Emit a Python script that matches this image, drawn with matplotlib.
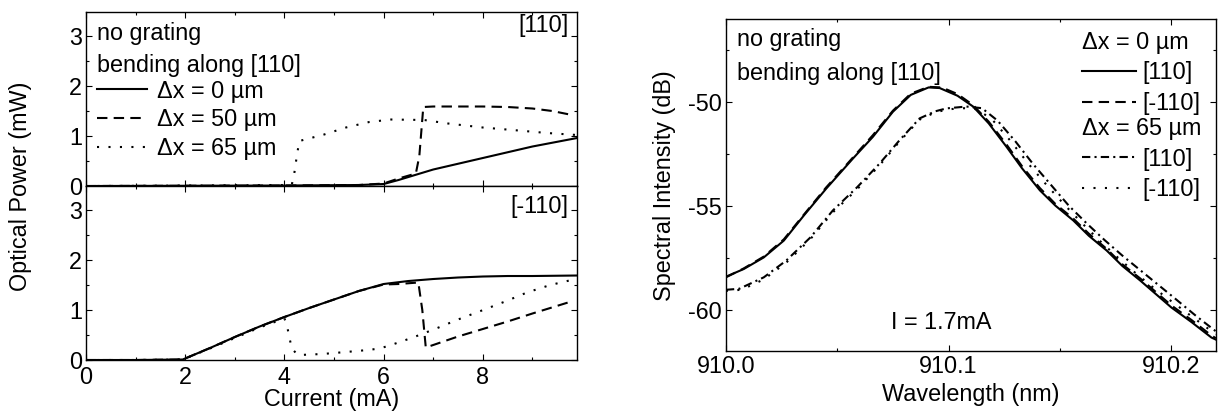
import matplotlib
matplotlib.use("Agg")
import matplotlib.pyplot as plt
from matplotlib.ticker import MultipleLocator, FormatStrFormatter

plt.rcParams['font.family'] = ['Liberation Sans', 'DejaVu Sans']
plt.rcParams['font.size'] = 16.8
plt.rcParams['axes.unicode_minus'] = False

# ---- left: L-I curves, bending along [110] ----
# upper panel, polarisation [110]
cur_110_0 = [0, 2, 4, 5.5, 6.0, 6.3, 7, 8, 9, 9.9]
pow_110_0 = [0, 0.005, 0.01, 0.02, 0.04, 0.12, 0.33, 0.56, 0.79, 0.96]
cur_110_50 = [0, 2, 4, 5.5, 6.0, 6.3, 6.65, 6.72, 6.8, 7.0, 7.5, 8.0, 8.5, 9.0, 9.4, 9.75]
pow_110_50 = [0, 0.005, 0.01, 0.02, 0.05, 0.15, 0.25, 0.6, 1.58, 1.59, 1.59, 1.59, 1.58, 1.55, 1.5, 1.43]
cur_110_65 = [0, 1, 2, 3, 4, 4.15, 4.2, 4.25, 4.3, 4.57, 4.8, 5.24, 5.71, 6.15, 6.82,
              7.3, 8.0, 8.72, 9.3, 9.9]
pow_110_65 = [0, 0.003, 0.01, 0.015, 0.02, 0.03, 0.26, 0.6, 0.9, 0.97, 1.03, 1.17, 1.28,
              1.33, 1.32, 1.25, 1.17, 1.11, 1.06, 1.02]

# lower panel, polarisation [-110]
cur_m110_0 = [0, 1, 1.95, 2.5, 3, 3.5, 4, 4.5, 5, 5.5, 6, 6.5, 7, 7.5, 8, 8.5, 9, 9.9]
pow_m110_0 = [0, 0, 0.01, 0.24, 0.46, 0.67, 0.86, 1.04, 1.21, 1.38, 1.52, 1.58, 1.62,
              1.65, 1.67, 1.68, 1.68, 1.69]
cur_m110_50 = [0, 1, 1.95, 2.5, 3, 3.5, 4, 4.5, 5, 5.5, 6, 6.3, 6.7, 6.78, 6.85, 7.0,
               7.5, 8, 8.5, 9, 9.75]
pow_m110_50 = [0, 0, 0.01, 0.24, 0.46, 0.67, 0.86, 1.04, 1.21, 1.38, 1.51, 1.52, 1.55,
               1.0, 0.25, 0.3, 0.47, 0.62, 0.77, 0.93, 1.16]
cur_m110_65 = [0, 1, 1.95, 2.5, 3, 3.5, 4, 4.05, 4.1, 4.15, 4.25, 4.3, 4.76, 5.24, 5.68,
               5.92, 6.15, 6.59, 7.06, 7.5, 7.98, 8.45, 8.89, 9.36, 9.83]
pow_m110_65 = [0, 0, 0.01, 0.23, 0.44, 0.65, 0.83, 0.7, 0.45, 0.23, 0.12, 0.1, 0.12, 0.16,
               0.2, 0.23, 0.3, 0.45, 0.63, 0.81, 0.99, 1.17, 1.35, 1.5, 1.61]

# ---- right: spectra at I = 1.7 mA ----
wl_0_110 = [910.000, 910.008, 910.017, 910.026, 910.035, 910.045, 910.057, 910.066,
            910.075, 910.083, 910.091, 910.096, 910.104, 910.111, 910.118, 910.126,
            910.133, 910.141, 910.148, 910.156, 910.163, 910.171, 910.178, 910.186,
            910.193, 910.200, 910.209, 910.218, 910.220]
si_0_110 = [-58.42, -58.05, -57.49, -56.68, -55.47, -54.18, -52.73, -51.68, -50.47,
            -49.66, -49.3, -49.33, -49.7, -50.22, -51.03, -52.16, -53.2, -54.26, -55.0,
            -55.71, -56.45, -57.16, -57.9, -58.6, -59.25, -59.9, -60.6, -61.35, -61.45]
wl_0_m110 = [910.000, 910.008, 910.017, 910.026, 910.035, 910.045, 910.057, 910.066,
             910.075, 910.083, 910.091, 910.097, 910.104, 910.111, 910.118, 910.126,
             910.133, 910.141, 910.148, 910.156, 910.163, 910.171, 910.178, 910.186,
             910.193, 910.200, 910.209, 910.218, 910.220]
si_0_m110 = [-58.45, -58.02, -57.45, -56.62, -55.43, -54.12, -52.68, -51.6, -50.42,
             -49.6, -49.27, -49.3, -49.62, -50.15, -50.95, -52.05, -53.1, -54.15, -54.92,
             -55.62, -56.35, -57.08, -57.82, -58.5, -59.15, -59.8, -60.5, -61.25, -61.38]
wl_65_110 = [910.000, 910.006, 910.017, 910.027, 910.038, 910.048, 910.059, 910.069,
             910.078, 910.087, 910.094, 910.099, 910.108, 910.115, 910.122, 910.130,
             910.138, 910.146, 910.154, 910.162, 910.170, 910.178, 910.186, 910.194,
             910.202, 910.211, 910.220]
si_65_110 = [-59.05, -59.0, -58.45, -57.65, -56.52, -55.23, -54.1, -52.97, -51.84,
             -50.79, -50.45, -50.31, -50.22, -50.3, -50.9, -51.9, -53.0, -54.0, -55.0,
             -55.85, -56.65, -57.4, -58.1, -58.8, -59.5, -60.3, -61.05]
wl_65_m110 = [910.000, 910.007, 910.017, 910.027, 910.038, 910.048, 910.059, 910.069,
              910.078, 910.087, 910.094, 910.100, 910.107, 910.113, 910.120, 910.128,
              910.136, 910.144, 910.152, 910.160, 910.168, 910.176, 910.184, 910.192,
              910.200, 910.210, 910.220]
si_65_m110 = [-59.1, -59.05, -58.55, -57.75, -56.6, -55.32, -54.2, -53.05, -51.9,
              -50.85, -50.5, -50.35, -50.3, -50.35, -50.9, -51.9, -53.0, -54.0, -54.95,
              -55.85, -56.7, -57.5, -58.25, -58.95, -59.6, -60.4, -61.2]

DASH = (5, 3)
DOT = (1, 4.5)
LW = 1.5
FS = 16.8

fig = plt.figure(figsize=(12.2, 4.12), dpi=100)
ax_up = fig.add_axes([0.0705, 0.5485, 0.4025, 0.4224])
ax_lo = fig.add_axes([0.0705, 0.1262, 0.4025, 0.4223])
ax_sp = fig.add_axes([0.595, 0.148, 0.4016, 0.806])


def style(ax):
    ax.tick_params(which='both', direction='in', top=True, right=True, labelsize=FS,
                   width=0.8, pad=3)
    ax.tick_params(which='major', length=4)
    ax.tick_params(which='minor', length=2.5)
    for s in ax.spines.values():
        s.set_linewidth(1.0)


for ax in (ax_up, ax_lo):
    ax.set_xlim(0, 9.9)
    ax.set_ylim(0, 3.48)
    ax.xaxis.set_major_locator(MultipleLocator(2))
    ax.xaxis.set_minor_locator(MultipleLocator(1))
    ax.yaxis.set_major_locator(MultipleLocator(1))
    ax.yaxis.set_minor_locator(MultipleLocator(0.5))
    style(ax)
ax_up.tick_params(labelbottom=False)
ax_lo.tick_params(axis='x', pad=4.5)

ax_up.plot(cur_110_0, pow_110_0, 'k-', lw=LW, label='\u0394x = 0 \u00b5m')
ax_up.plot(cur_110_50, pow_110_50, 'k', lw=LW, dashes=DASH, label='\u0394x = 50 \u00b5m')
ax_up.plot(cur_110_65, pow_110_65, 'k', lw=LW, dashes=DOT, label='\u0394x = 65 \u00b5m')
ax_lo.plot(cur_m110_0, pow_m110_0, 'k-', lw=LW)
ax_lo.plot(cur_m110_50, pow_m110_50, 'k', lw=LW, dashes=DASH)
ax_lo.plot(cur_m110_65, pow_m110_65, 'k', lw=LW, dashes=DOT)

ax_up.text(0.022, 0.945, 'no grating\nbending along [110]', transform=ax_up.transAxes,
           ha='left', va='top', fontsize=FS, linespacing=1.5)
ax_up.legend(loc='upper left', bbox_to_anchor=(0.022, 0.612), frameon=False, fontsize=FS,
             handlelength=2.15, handletextpad=0.43, labelspacing=0.25, borderpad=0,
             borderaxespad=0)
ax_up.text(0.982, 0.925, '[110]', transform=ax_up.transAxes, ha='right', va='center')
ax_lo.text(0.982, 0.88, '[-110]', transform=ax_lo.transAxes, ha='right', va='center')

fig.text(0.017, 0.5485, 'Optical Power (mW)', rotation=90, ha='center', va='center',
         fontsize=FS)
fig.text(0.272, 0.031, 'Current (mA)', ha='center', va='center', fontsize=FS)

# spectra
ax_sp.plot(wl_0_110, si_0_110, 'k-', lw=LW)
ax_sp.plot(wl_0_m110, si_0_m110, 'k', lw=LW, dashes=DASH)
ax_sp.plot(wl_65_110, si_65_110, 'k', lw=LW, dashes=(4, 2, 1, 2))
ax_sp.plot(wl_65_m110, si_65_m110, 'k', lw=LW, dashes=DOT)
ax_sp.set_xlim(910.0, 910.22)
ax_sp.set_ylim(-62, -46)
ax_sp.xaxis.set_major_locator(MultipleLocator(0.1))
ax_sp.xaxis.set_minor_locator(MultipleLocator(0.05))
ax_sp.xaxis.set_major_formatter(FormatStrFormatter('%.1f'))
ax_sp.yaxis.set_major_locator(MultipleLocator(5))
ax_sp.yaxis.set_minor_locator(MultipleLocator(2.5))
style(ax_sp)
fig.text(0.796, 0.042, 'Wavelength (nm)', ha='center', va='center', fontsize=FS)
fig.text(0.545, 0.55, 'Spectral Intensity (dB)', rotation=90, ha='center', va='center',
         fontsize=FS)

ax_sp.text(0.022, 0.972, 'no grating\nbending along [110]', transform=ax_sp.transAxes,
           ha='left', va='top', fontsize=FS, linespacing=1.6)
ax_sp.text(0.44, 0.087, 'I = 1.7mA', transform=ax_sp.transAxes, ha='center',
           va='center', fontsize=FS)

lines = ax_sp.get_lines()
leg1 = ax_sp.legend(lines[:2], ['[110]', '[-110]'], title='\u0394x = 0 \u00b5m',
                    alignment='left', loc='upper left', bbox_to_anchor=(0.7265, 0.965),
                    frameon=False, fontsize=FS, title_fontsize=FS, handlelength=2.3,
                    handletextpad=0.3, labelspacing=0.33, borderpad=0, borderaxespad=0)
ax_sp.add_artist(leg1)
ax_sp.legend(lines[2:], ['[110]', '[-110]'], title='\u0394x = 65 \u00b5m',
             alignment='left', loc='upper left', bbox_to_anchor=(0.7265, 0.705),
             frameon=False, fontsize=FS, title_fontsize=FS, handlelength=2.3,
             handletextpad=0.3, labelspacing=0.33, borderpad=0, borderaxespad=0)

fig.savefig('out.png', dpi=100)
